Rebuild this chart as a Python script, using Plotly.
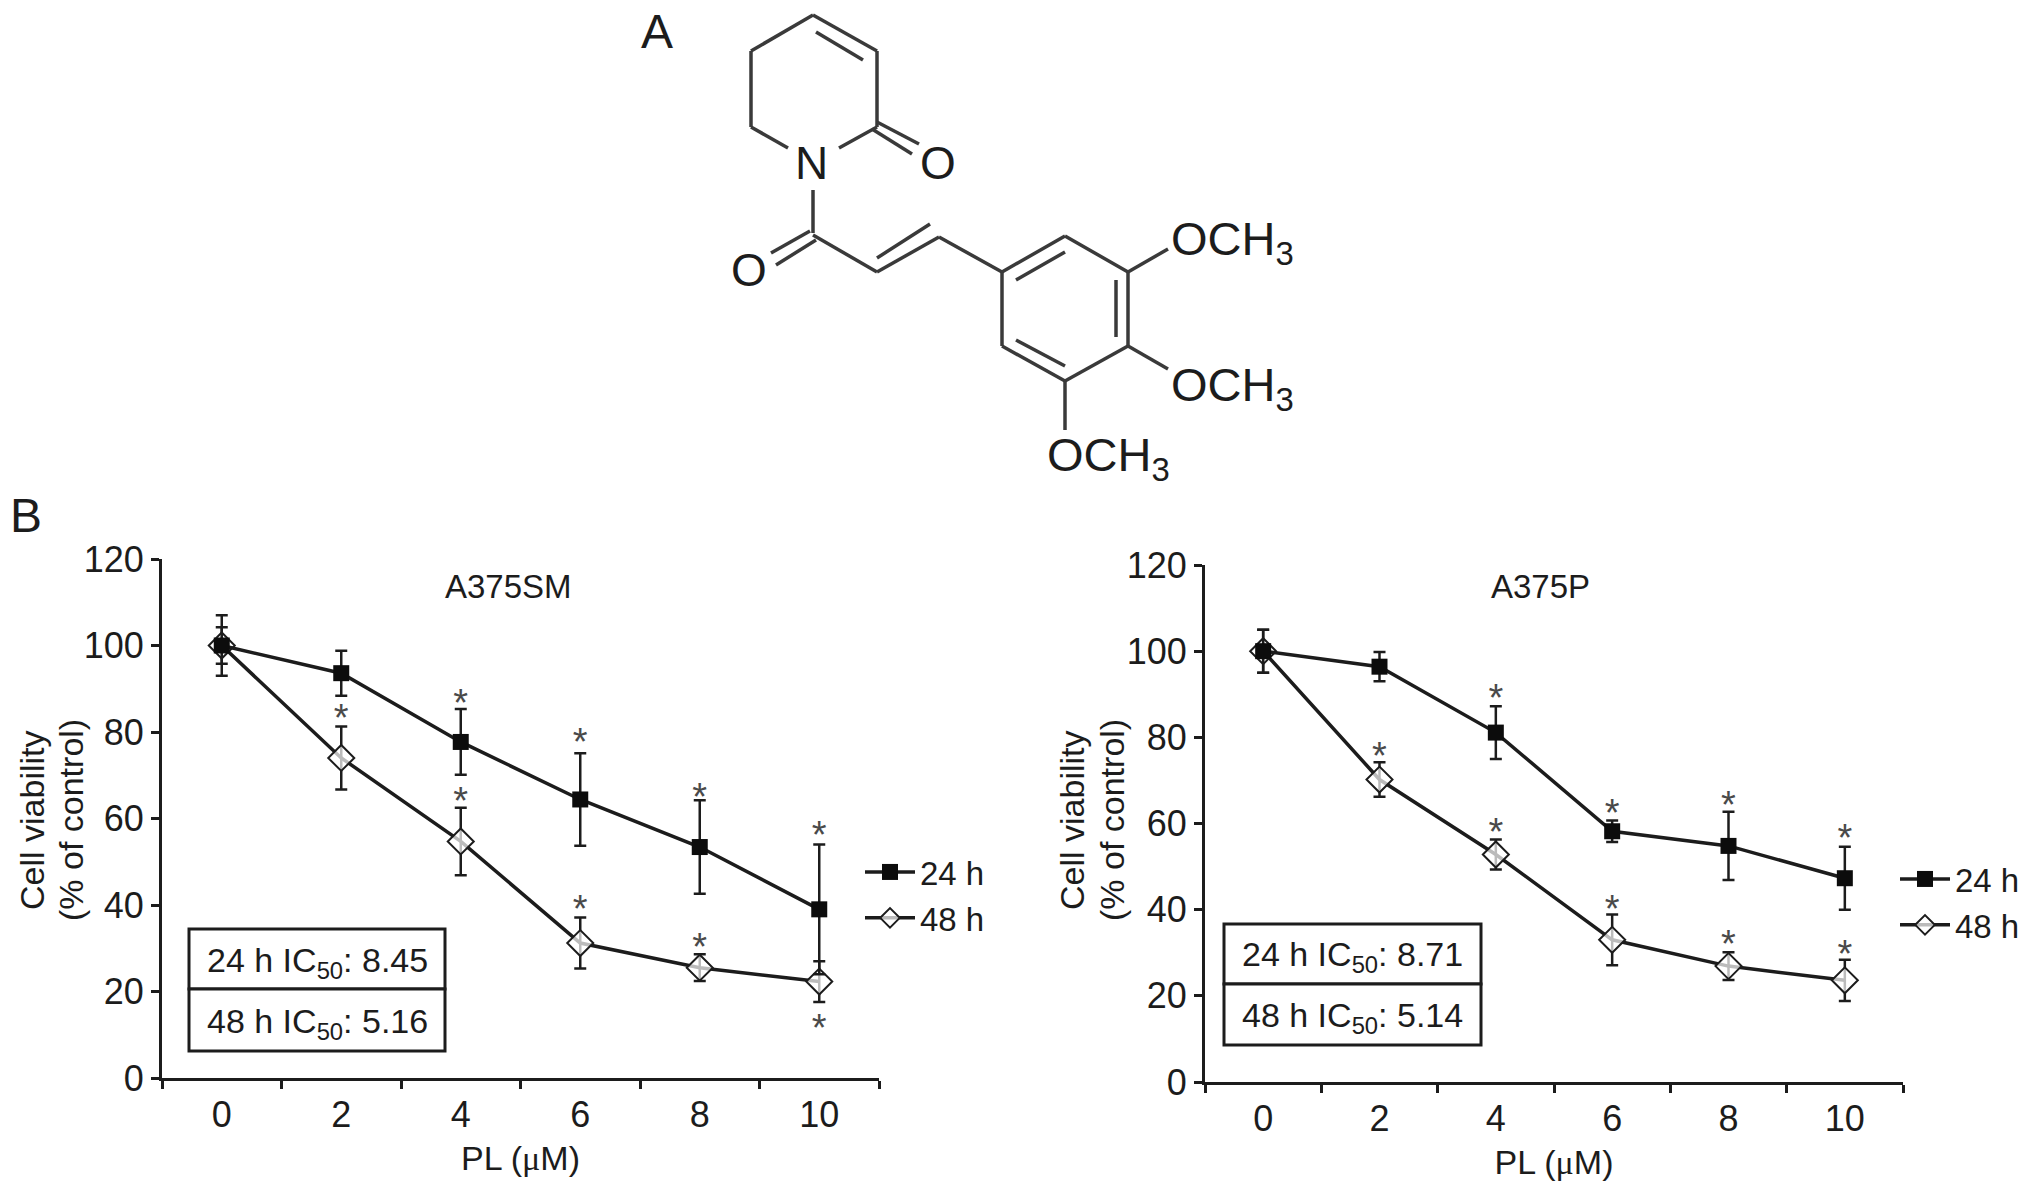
import plotly.graph_objects as go

WIDTH = 2032
HEIGHT = 1184
FONT = "Liberation Sans"
INK = "#1c1c1c"

doses = ["0", "2", "4", "6", "8", "10"]
y_ticks = [0, 20, 40, 60, 80, 100, 120]

# A375SM
sm_24h = [100, 93.6, 77.7, 64.4, 53.4, 39]
sm_24h_err = [4.2, 5.2, 7.6, 10.7, 10.8, 15]
sm_48h = [100, 74, 54.7, 31.2, 25.5, 22.3]
sm_48h_err = [7, 7.3, 7.8, 5.9, 3.1, 4.7]
sm_24h_star = [None, None, 85.9, 76.8, 64.2, 55.3]
sm_48h_star = [None, 82.4, 63.3, 38.2, 29.4, 10.8]

# A375P
p_24h = [100, 96.4, 81.1, 58.2, 54.8, 47.3]
p_24h_err = [5, 3.4, 6.1, 2.5, 7.9, 7.3]
p_48h = [100, 70.2, 52.8, 33, 26.9, 23.6]
p_48h_err = [5, 4, 3.5, 5.9, 3.2, 4.8]
p_24h_star = [None, None, 88.3, 61.7, 63.4, 55.9]
p_48h_star = [None, 74.8, 57.1, 39.3, 31.2, 28.9]

ic50_sm = ["24 h IC<sub>50</sub>: 8.45", "48 h IC<sub>50</sub>: 5.16"]
ic50_p = ["24 h IC<sub>50</sub>: 8.71", "48 h IC<sub>50</sub>: 5.14"]

# structure of panel A, pixel positions in the page
bonds = [
    (813, 15, 877, 51), (813, 15, 751, 51), (877, 51, 877, 127), (751, 51, 751, 127),
    (816, 32, 863, 60), (877, 127, 839, 148), (751, 127, 788, 148),
    (877, 122, 919, 144), (872, 129, 912, 154),
    (813, 190, 813, 233), (810, 231, 771, 253), (816, 240, 776, 265),
    (813, 235, 877, 272), (877, 272, 939, 237), (877, 258, 930, 224), (939, 237, 1002, 272),
    (1002, 272, 1065, 236), (1065, 236, 1128, 272), (1128, 272, 1128, 346),
    (1128, 346, 1065, 381), (1065, 381, 1002, 346), (1002, 346, 1002, 272),
    (1016, 280, 1065, 252), (1116, 280, 1116, 337), (1016, 340, 1065, 366),
    (1128, 272, 1168, 249), (1128, 346, 1168, 369), (1065, 381, 1065, 430),
]
atoms = [
    ("N", 811, 163, 46), ("O", 938, 163, 46), ("O", 749, 270, 46),
    ("OCH<sub>3</sub>", 1232, 242, 47), ("OCH<sub>3</sub>", 1232, 388, 47),
    ("OCH<sub>3</sub>", 1108, 458, 47),
]


def px(x):
    return x / WIDTH


def py(y):
    return 1 - y / HEIGHT


def add_panel(fig, suffix, v24, e24, v48, e48, s24, s48, legend_name):
    x_name = "x" + suffix
    y_name = "y" + suffix
    line = dict(color=INK, width=3.5)
    diamond = dict(symbol="diamond", color="rgba(255,255,255,0.7)", line=dict(color=INK, width=2))
    square = dict(symbol="square", size=16, color="#0c0c0c")
    fig.add_trace(go.Scatter(
        x=doses, y=v48, xaxis=x_name, yaxis=y_name, showlegend=False,
        mode="lines+markers", line=line, marker=dict(diamond, size=20),
        error_y=dict(type="data", array=e48, color=INK, thickness=2.5, width=6),
    ))
    fig.add_trace(go.Scatter(
        x=doses, y=v24, xaxis=x_name, yaxis=y_name, showlegend=False,
        mode="lines+markers", line=line, marker=square,
        error_y=dict(type="data", array=e24, color=INK, thickness=2.5, width=6),
    ))
    # legend keys use a smaller diamond than the plotted points
    fig.add_trace(go.Scatter(
        x=[None], y=[None], name="48 h", xaxis=x_name, yaxis=y_name, legend=legend_name,
        mode="lines+markers", line=line, marker=dict(diamond, size=15),
    ))
    fig.add_trace(go.Scatter(
        x=[None], y=[None], name="24 h", xaxis=x_name, yaxis=y_name, legend=legend_name,
        mode="lines+markers", line=line, marker=square,
    ))
    for stars in (s24, s48):
        fig.add_trace(go.Scatter(
            x=doses, y=stars, xaxis=x_name, yaxis=y_name, mode="text",
            text=["*" if s is not None else "" for s in stars],
            textposition="middle center",
            textfont=dict(family=FONT, size=38, color="#4a4a4a"),
            showlegend=False, hoverinfo="skip",
        ))


fig = go.Figure()
add_panel(fig, "", sm_24h, sm_24h_err, sm_48h, sm_48h_err, sm_24h_star, sm_48h_star, "legend")
add_panel(fig, "2", p_24h, p_24h_err, p_48h, p_48h_err, p_24h_star, p_48h_star, "legend2")

x_axis = dict(
    type="category", categoryorder="array", categoryarray=doses, range=[-0.5, 5.5],
    tickson="boundaries", ticks="outside", ticklen=8, tickwidth=3, tickcolor=INK,
    showline=True, linecolor=INK, linewidth=3, showgrid=False, zeroline=False, automargin=False,
    tickfont=dict(family=FONT, size=36, color=INK), ticklabelstandoff=3,
    title=dict(text='PL (<span style="font-family:Liberation Serif">μ</span>M)',
               font=dict(family=FONT, size=34, color=INK), standoff=12),
)
y_axis = dict(
    range=[0, 120], tickvals=y_ticks, ticks="outside", ticklen=8, tickwidth=3, tickcolor=INK,
    showline=True, linecolor=INK, linewidth=3, showgrid=False, zeroline=False, automargin=False,
    tickfont=dict(family=FONT, size=36, color=INK),
)
legend_base = dict(
    font=dict(family=FONT, size=33, color=INK), bgcolor="rgba(0,0,0,0)",
    itemwidth=50, traceorder="reversed", xanchor="left", yanchor="middle", itemclick=False,
)

shapes = []
annotations = []


def text_at(text, x, y, size, color=INK, angle=0):
    annotations.append(dict(
        text=text, x=px(x), y=py(y), xref="paper", yref="paper", showarrow=False, textangle=angle,
        xanchor="center", yanchor="middle", font=dict(family=FONT, size=size, color=color),
    ))


def ic50_box(labels, left, top, mid, right, bottom):
    for y0, y1 in ((top, mid), (mid, bottom)):
        shapes.append(dict(type="rect", xref="paper", yref="paper",
                           x0=px(left), x1=px(right), y0=py(y0), y1=py(y1),
                           line=dict(color=INK, width=3), fillcolor="white"))
    text_at(labels[0], (left + right) / 2, (top + mid) / 2 + 3, 34)
    text_at(labels[1], (left + right) / 2, (mid + bottom) / 2 + 3, 34)


ic50_box(ic50_sm, 189, 929, 989, 445, 1051)
ic50_box(ic50_p, 1224, 924, 984, 1481, 1045)

text_at("A375SM", 508, 586, 33)
text_at("A375P", 1540, 586, 33)
text_at("A", 657, 32, 48)
text_at("B", 26, 516, 48)

# two separate lines: the line spacing of a wrapped axis title is too wide here
text_at("Cell viability", 32, 820, 34, angle=-90)
text_at("(% of control)", 71, 820, 34, angle=-90)
text_at("Cell viability", 1072, 820, 34, angle=-90)
text_at("(% of control)", 1112, 820, 34, angle=-90)

for x0, y0, x1, y1 in bonds:
    shapes.append(dict(type="line", xref="paper", yref="paper",
                       x0=px(x0), y0=py(y0), x1=px(x1), y1=py(y1),
                       line=dict(color="#3a3a3a", width=3.5)))
for label, x, y, size in atoms:
    text_at(label, x, y, size)

fig.update_layout(
    width=WIDTH, height=HEIGHT, margin=dict(l=0, r=0, t=0, b=0),
    paper_bgcolor="white", plot_bgcolor="rgba(0,0,0,0)",
    font=dict(family=FONT, color=INK),
    xaxis=dict(x_axis, domain=[px(162), px(879)], anchor="y"),
    yaxis=dict(y_axis, domain=[py(1078), py(559)], anchor="x"),
    xaxis2=dict(x_axis, domain=[px(1205), px(1903)], anchor="y2"),
    yaxis2=dict(y_axis, domain=[py(1082), py(565)], anchor="x2"),
    legend=dict(legend_base, x=px(860), y=py(895)),
    legend2=dict(legend_base, x=px(1895), y=py(902)),
    shapes=shapes, annotations=annotations,
)

fig.write_html("out.html", config={"displayModeBar": False},
               post_script="document.body.style.margin='0';")
